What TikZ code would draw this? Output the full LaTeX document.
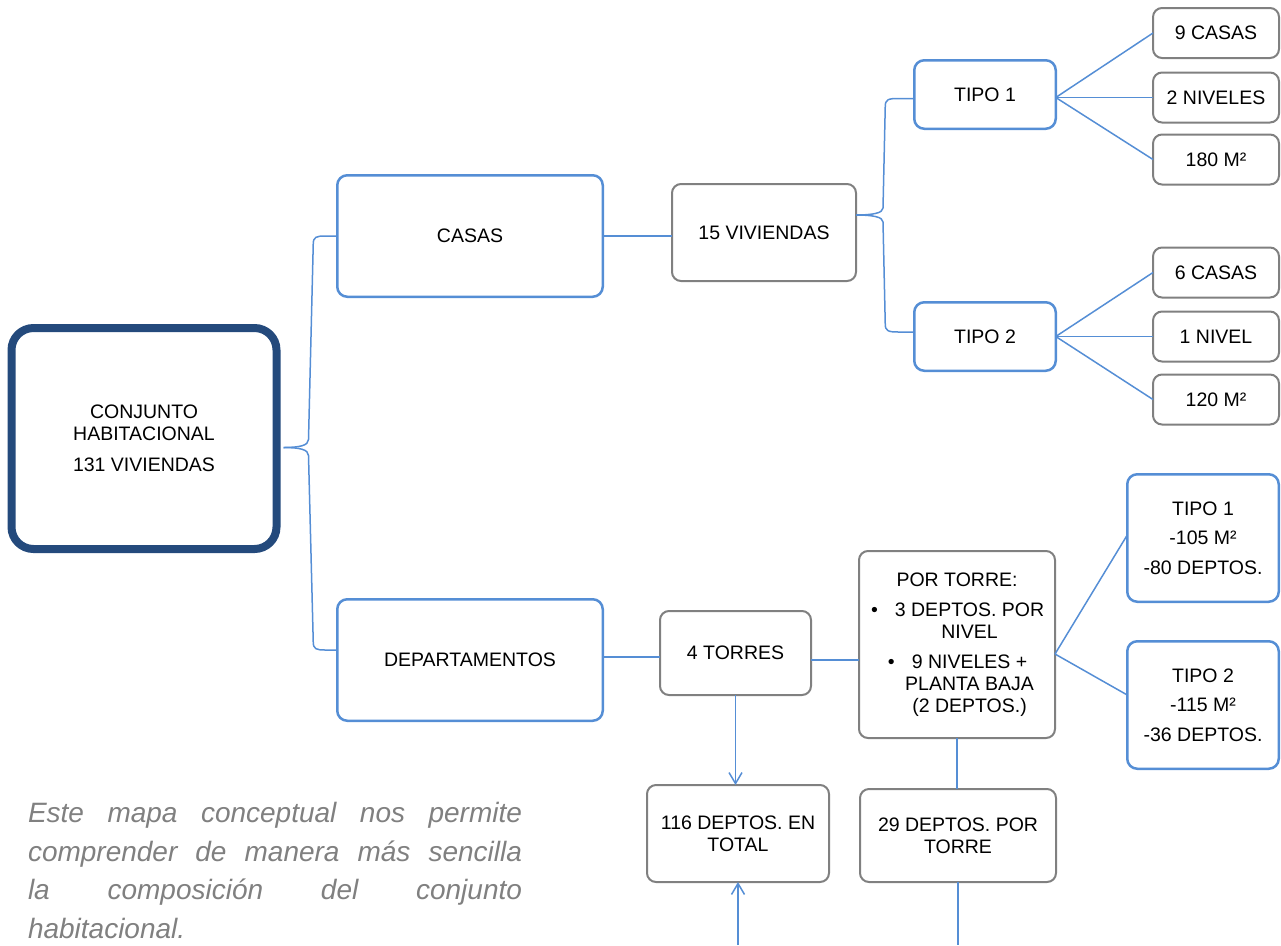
\documentclass[tikz,border=0pt]{standalone}
\usepackage{fontspec}
\setmainfont{Liberation Sans}
\usetikzlibrary{arrows.meta,calc}
\definecolor{cblue}{HTML}{558ED5}
\definecolor{cgray}{HTML}{808080}
\definecolor{cdark}{HTML}{244A7C}
\definecolor{cpara}{HTML}{808080}
\newcommand{\boxfont}{\fontsize{19.5}{22}\selectfont}
\newcommand{\itembullet}{\llap{•\hspace{17pt}}}

\begin{document}
\begin{tikzpicture}[x=1pt,y=-1pt,
  box/.style={align=center, inner sep=0pt, outer sep=0pt, font=\boxfont, text=black},
  sz/.style n args={2}{minimum width=#1pt, minimum height=#2pt},
  bluebox/.style={box, draw=cblue, line width=2.5pt, rounded corners=10pt},
  graybox/.style={box, draw=cgray, line width=2pt, rounded corners=9pt},
  mainbox/.style={box, draw=cdark, line width=8pt, rounded corners=22pt},
  link/.style={draw=cblue, line width=1.5pt},
  arrowlink/.style={link, -{Straight Barb[length=11pt,width=13pt]}},
]
\useasboundingbox (0,0) rectangle (1281,945);

% main node
\node[mainbox, sz={265}{221}] (conj) at (144,438.5)
  {CONJUNTO\\HABITACIONAL\\[9pt]131 VIVIENDAS};

% houses branch
\node[bluebox, sz={265.5}{121.5}] (casas) at (470,236) {CASAS};
\node[graybox, sz={184}{97}] (viv15) at (764,232.5) {15 VIVIENDAS};
\node[bluebox, sz={141.5}{68.5}] (tipo1c) at (985,94.5) {TIPO 1};
\node[bluebox, sz={141.5}{68.5}] (tipo2c) at (985,336.5) {TIPO 2};
\node[graybox, sz={126}{50}] (c9) at (1216,33) {9 CASAS};
\node[graybox, sz={126}{50}] (n2) at (1216,97.5) {2 NIVELES};
\node[graybox, sz={126}{50}] (m180) at (1216,159.5) {180 M²};
\node[graybox, sz={126}{50}] (c6) at (1216,272.5) {6 CASAS};
\node[graybox, sz={126}{50}] (n1) at (1216,336.5) {1 NIVEL};
\node[graybox, sz={126}{50}] (m120) at (1216,399.5) {120 M²};

% apartments branch
\node[bluebox, sz={265.5}{121.5}] (dep) at (470,660) {DEPARTAMENTOS};
\node[graybox, sz={151}{84}] (torres) at (735.5,653) {4 TORRES};
\node[graybox, sz={196}{187}] (portorre) at (957,644.5)
  {POR TORRE:\\[8pt]
   \hspace*{25pt}\itembullet 3 DEPTOS. POR\\
   \hspace*{25pt}NIVEL\\[8pt]
   \hspace*{25pt}\itembullet 9 NIVELES +\\
   \hspace*{25pt}PLANTA BAJA\\
   \hspace*{25pt}(2 DEPTOS.)};
\node[bluebox, sz={151.5}{127.5}] (t1d) at (1203,538) {TIPO 1\\[7.5pt]-105 M²\\[7.5pt]-80 DEPTOS.};
\node[bluebox, sz={151.5}{127.5}] (t2d) at (1203,705) {TIPO 2\\[7.5pt]-115 M²\\[7.5pt]-36 DEPTOS.};
\node[graybox, sz={182}{97}] (d116) at (738,833.5) {116 DEPTOS. EN\\TOTAL};
\node[graybox, sz={196}{93}] (d29) at (958,835.5) {29 DEPTOS. POR\\TORRE};

% note
\node[anchor=north west, inner sep=0pt, outer sep=0pt, text width=494pt, align=justify,
      text=cpara, font=\fontsize{28}{38.5}\selectfont\itshape] (nota) at (28,802.5)
  {\tolerance=10000 Este mapa conceptual nos permite\linebreak comprender de manera más sencilla\linebreak la composición del conjunto\linebreak habitacional.};

% helper points
\coordinate (edge) at (0,945);
\coordinate (tipA) at ($(conj.east)+(7,9)$);
\coordinate (depA) at ($(dep.west)+(0,-10)$);
\coordinate (tipB) at ($(viv15.east)+(0,-17.5)$);
\coordinate (t1A) at ($(tipo1c.west)+(0,4)$);
\coordinate (t2A) at ($(tipo2c.west)+(0,-4.5)$);
\coordinate (dA) at ($(dep.east)+(0,-3)$);
\coordinate (tA) at ($(torres.east)+(0,7)$);
\coordinate (tc1) at ($(tipo1c.east)+(0,3)$);
\coordinate (pA) at ($(portorre.east)+(0,9.5)$);
\coordinate (td1) at ($(t1d.west)+(0,-3)$);
\coordinate (td2) at ($(t2d.west)+(0,-10)$);

% brace from the main node
\draw[link] (tipA) .. controls ($(tipA)+(16,0)$) and ($(tipA)+(25,-2)$) .. ($(tipA)+(25,-8)$)
  -- ($(casas.west)+(-24,8)$) .. controls ($(casas.west)+(-24,1)$) and ($(casas.west)+(-21,0)$) .. ($(casas.west)+(-12,0)$)
  -- (casas.west);
\draw[link] (tipA) .. controls ($(tipA)+(16,0)$) and ($(tipA)+(25,2)$) .. ($(tipA)+(25,8)$)
  -- ($(depA)+(-24,-8)$) .. controls ($(depA)+(-24,-1)$) and ($(depA)+(-21,0)$) .. ($(depA)+(-12,0)$)
  -- (depA);

% brace from 15 VIVIENDAS
\draw[link] (tipB) .. controls ($(tipB)+(17,0)$) and ($(tipB)+(27,-2)$) .. ($(tipB)+(27,-7)$)
  -- ($(t1A)+(-29,8)$) .. controls ($(t1A)+(-29,1)$) and ($(t1A)+(-26,0)$) .. ($(t1A)+(-16,0)$)
  -- (t1A);
\draw[link] (tipB) .. controls ($(tipB)+(17,0)$) and ($(tipB)+(27,2)$) .. ($(tipB)+(27,7)$)
  -- ($(t2A)+(-29,-8)$) .. controls ($(t2A)+(-29,-1)$) and ($(t2A)+(-26,0)$) .. ($(t2A)+(-16,0)$)
  -- (t2A);

% straight links
\draw[link] (casas.east) -- (casas.east -| viv15.west);
\draw[link] (tc1) -- (c9.west);
\draw[link] (tc1) -- (n2.west);
\draw[link] (tc1) -- (m180.west);
\draw[link] (tipo2c.east) -- (c6.west);
\draw[link] (tipo2c.east) -- (n1.west);
\draw[link] (tipo2c.east) -- (m120.west);
\draw[link] (dA) -- (dA -| torres.west);
\draw[link] (tA) -- (tA -| portorre.west);
\draw[link] (pA) -- (td1);
\draw[link] (pA) -- (td2);
\draw[link] (portorre.south) -- (portorre.south |- d29.north);
\draw[link] (d29.south) -- (d29.south |- edge);

% arrows into the total
\draw[arrowlink] (torres.south) -- (torres.south |- d116.north);
\draw[arrowlink] (d116.south |- edge) -- (d116.south);
\end{tikzpicture}
\end{document}
